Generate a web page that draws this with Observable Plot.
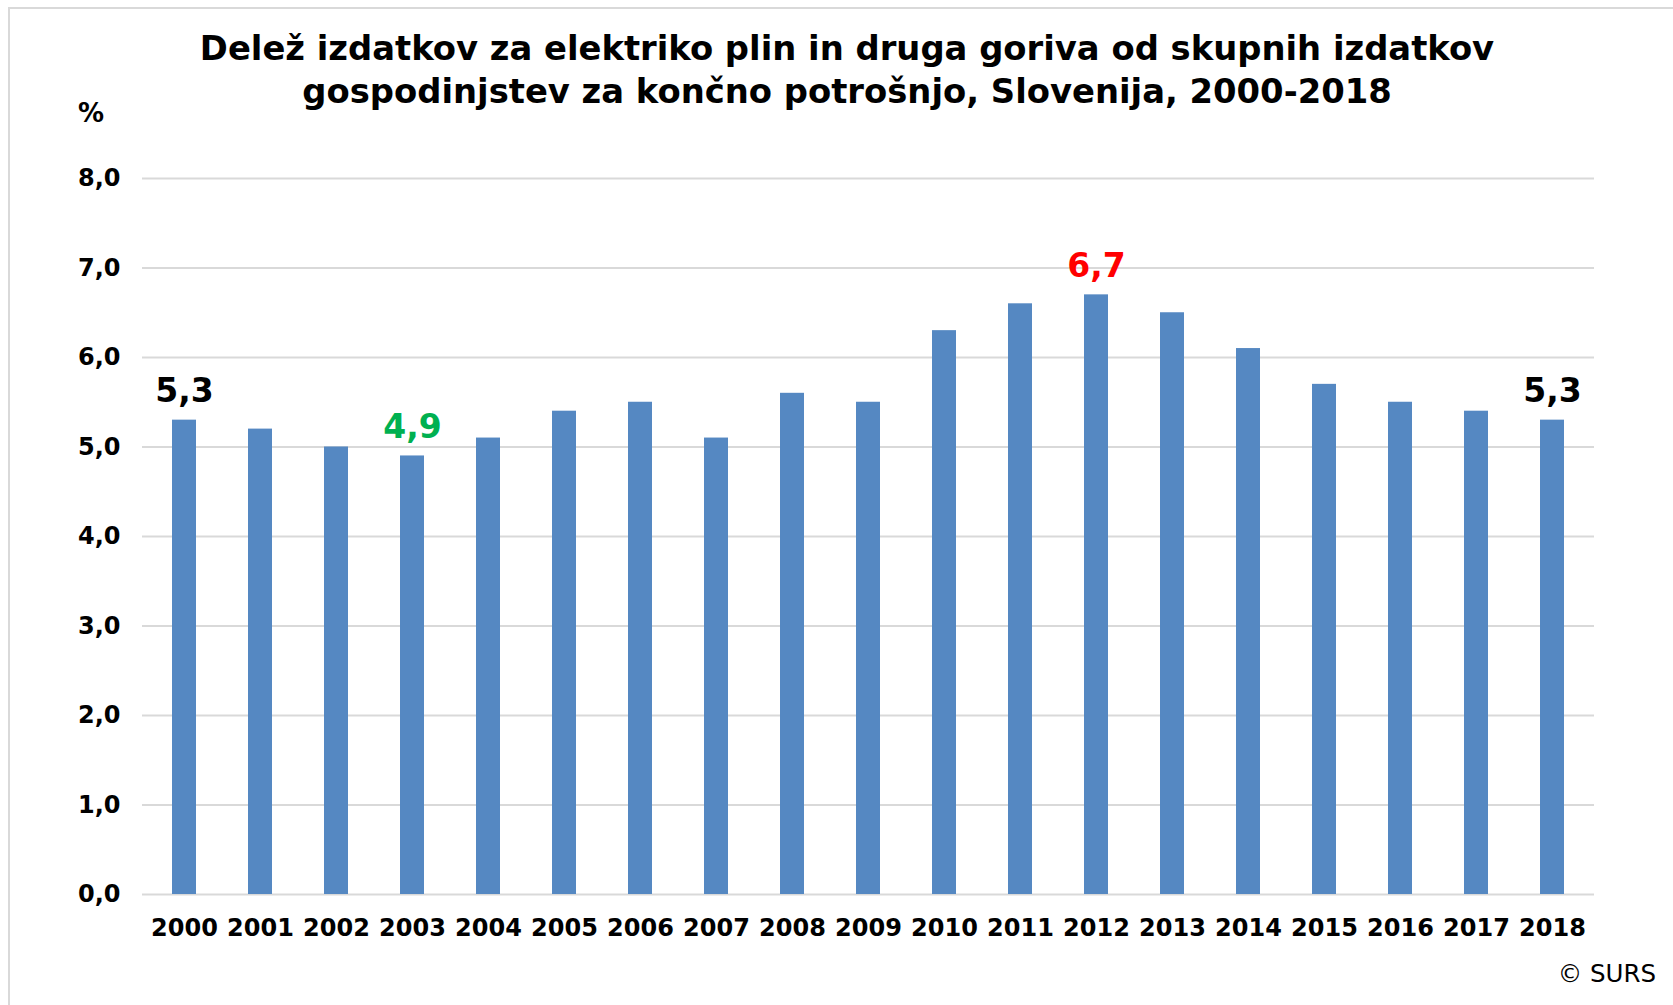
<!DOCTYPE html>
<html>
<head>
<meta charset="utf-8">
<script src="https://cdn.jsdelivr.net/npm/d3@7"></script>
<script src="https://cdn.jsdelivr.net/npm/@observablehq/plot@0.6"></script>
<style>
  html, body { margin: 0; padding: 0; background: #fff; }
  #wrap { position: relative; width: 1673px; height: 1005px; overflow: hidden; font-family: "DejaVu Sans", Verdana, sans-serif; }
  #frame { position: absolute; left: 8px; top: 7px; width: 1680px; height: 1010px; border-left: 2px solid #d9d9d9; border-top: 2px solid #d9d9d9; }
  #title { position: absolute; left: 0; width: 1694px; top: 27px; text-align: center; font-weight: bold; font-size: 33.8px; line-height: 43px; color: #000; }
  #unit { position: absolute; left: 78px; top: 98px; font-weight: bold; font-size: 26px; color: #000; }
  #src { position: absolute; right: 17px; top: 959px; font-size: 24.5px; color: #000; }
  #chart { position: absolute; left: 0; top: 0; }
</style>
</head>
<body>
<div id="wrap">
  <div id="frame"></div>
  <div id="chart"></div>
  <div id="title">Delež izdatkov za elektriko plin in druga goriva od skupnih izdatkov<br>gospodinjstev za končno potrošnjo, Slovenija, 2000-2018</div>
  <div id="unit">%</div>
  <div id="src">© SURS</div>
</div>
<script>
const years = ["2000","2001","2002","2003","2004","2005","2006","2007","2008","2009","2010","2011","2012","2013","2014","2015","2016","2017","2018"];
const values = [5.3, 5.2, 5.0, 4.9, 5.1, 5.4, 5.5, 5.1, 5.6, 5.5, 6.3, 6.6, 6.7, 6.5, 6.1, 5.7, 5.5, 5.4, 5.3];
const yTicks = [0, 1, 2, 3, 4, 5, 6, 7, 8];
const labelYears = ["2000", "2003", "2012", "2018"];
const labelColors = ["#000000", "#00b050", "#ff0000", "#000000"];

const data = years.map((year, i) => ({year, value: values[i]}));
const labels = labelYears.map((year, i) => ({year, value: values[years.indexOf(year)], color: labelColors[i]}));
const fmt = d => d.toFixed(1).replace(".", ",");

const chart = Plot.plot({
  width: 1673,
  height: 1005,
  marginLeft: 142,
  marginRight: 79,
  marginTop: 178,
  marginBottom: 111,
  style: {fontFamily: "'DejaVu Sans', Verdana, sans-serif", background: "transparent", overflow: "visible"},
  x: {domain: years, paddingInner: 0.69, paddingOuter: 0.345, label: null},
  y: {domain: [0, 8], label: null},
  marks: [
    Plot.ruleY(yTicks, {stroke: "#d9d9d9", strokeWidth: 2}),
    Plot.barY(data, {x: "year", y: "value", fill: "#5588c2"}),
    Plot.axisY(yTicks, {tickSize: 0, tickPadding: 22, tickFormat: fmt, fontSize: 24, fontWeight: "bold", fill: "#000", label: null}),
    Plot.axisX({tickSize: 0, tickPadding: 24, fontSize: 24, fontWeight: "bold", fill: "#000", label: null}),
    Plot.text(labels, {x: "year", y: "value", text: d => fmt(d.value), fill: "color", fontSize: 33, fontWeight: "bold", lineAnchor: "bottom", dy: -18})
  ]
});
document.getElementById("chart").appendChild(chart);
</script>
</body>
</html>
